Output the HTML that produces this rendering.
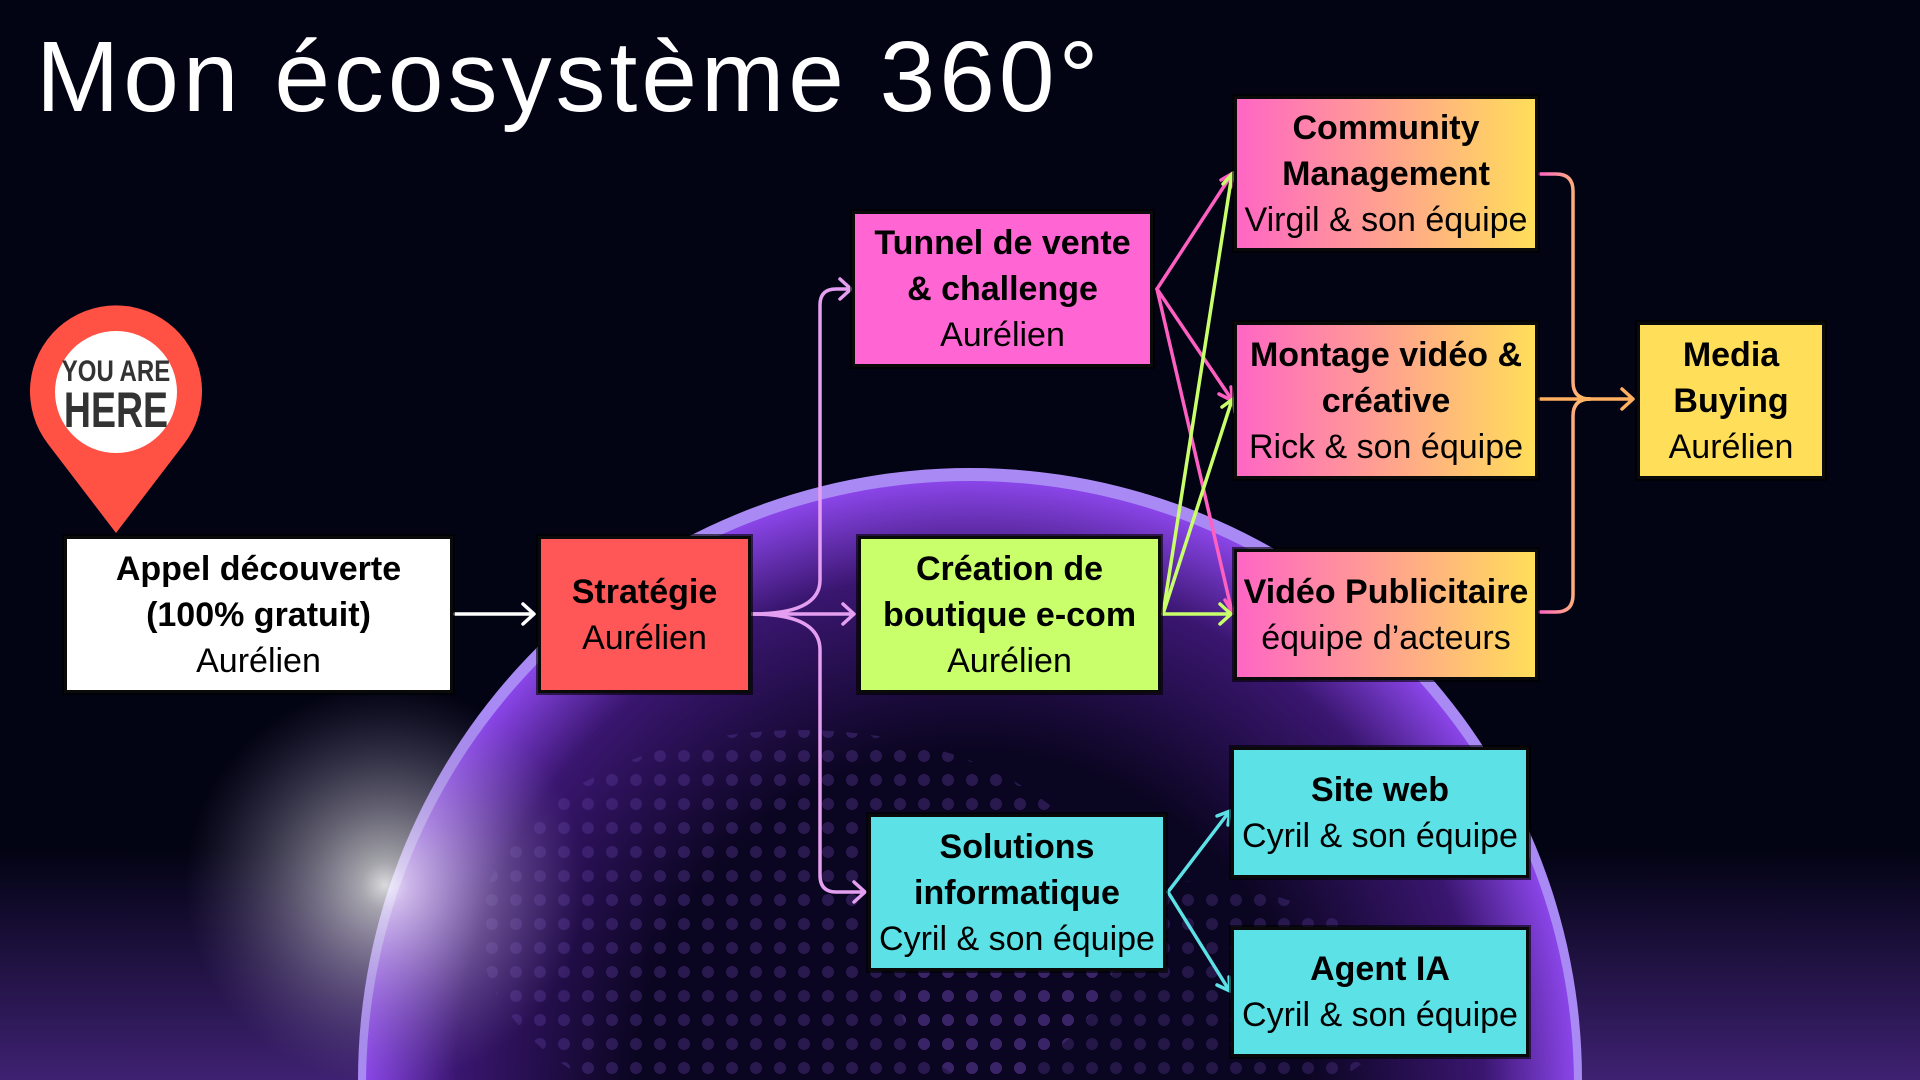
<!DOCTYPE html>
<html><head><meta charset="utf-8"><style>
html,body{margin:0;padding:0;width:1920px;height:1080px;overflow:hidden}
body{background:#020313;position:relative;font-family:"Liberation Sans",sans-serif}
.title{position:absolute;left:36px;top:20px;font-size:100px;color:#fff;letter-spacing:4px;white-space:nowrap}
.box{position:absolute;box-sizing:border-box;border:3px solid #0a0a0a;outline:2px solid rgba(0,0,0,.6);display:flex;flex-direction:column;justify-content:center;align-items:center;text-align:center;color:#000;font-size:34px;line-height:46px}
.box b{font-weight:bold}
.g{background:linear-gradient(90deg,#ff66c4,#ffde59)}
</style></head><body>
<svg width="1920" height="1080" style="position:absolute;left:0;top:0">
<defs>
<radialGradient id="globe" cx="0.5" cy="0.5" r="0.5">
<stop offset="0.55" stop-color="#0a0520"/>
<stop offset="0.85" stop-color="#3a1670"/>
<stop offset="1" stop-color="#8a45e8"/>
</radialGradient>
<radialGradient id="flare" cx="0.5" cy="0.5" r="0.5">
<stop offset="0" stop-color="#fff" stop-opacity="1"/>
<stop offset="0.12" stop-color="#eee" stop-opacity="0.8"/>
<stop offset="1" stop-color="#8877aa" stop-opacity="0"/>
</radialGradient>
<linearGradient id="bott" x1="0" y1="0" x2="0" y2="1">
<stop offset="0" stop-color="#7b3fd0" stop-opacity="0"/>
<stop offset="1" stop-color="#7b3fd0" stop-opacity="0.5"/>
</linearGradient>
<pattern id="dots" width="24" height="24" patternUnits="userSpaceOnUse"><circle cx="12" cy="12" r="6" fill="#5a3a9a" opacity="0.55"/></pattern>
<linearGradient id="brk" x1="0" y1="0" x2="1" y2="0"><stop offset="0" stop-color="#ff66c4"/><stop offset="1" stop-color="#ffcf59"/></linearGradient>
</defs>
<rect x="0" y="850" width="1920" height="230" fill="url(#bott)"/>
<circle cx="970" cy="1080" r="612" fill="#a98af5"/>
<circle cx="970" cy="1085" r="604" fill="url(#globe)"/>
<ellipse cx="800" cy="930" rx="320" ry="200" fill="url(#dots)" opacity="0.7"/>
<ellipse cx="1150" cy="1000" rx="250" ry="120" fill="url(#dots)" opacity="0.6"/>
<circle cx="385" cy="885" r="200" fill="url(#flare)" opacity="0.85"/>
<g fill="none" stroke-width="3.5" stroke-linecap="round" stroke-linejoin="round">
<path d="M455 614 H533 M523 604 L534 614 L523 624" stroke="#fff"/>
<g stroke="#e59ff0">
<path d="M752 614 H853 M843 604 L854 614 L843 624"/>
<path d="M752 614 Q820 614 820 580 V305 Q820 289 836 289 H850 M840 279 L851 289 L840 299"/>
<path d="M752 614 Q820 614 820 650 V875 Q820 892 836 892 H864 M854 882 L865 892 L854 902"/>
</g>
<g stroke="#ff5fc0">
<path d="M1157 289 L1232 174 M1221 180 L1233 173 L1231 187"/>
<path d="M1157 289 L1232 400 M1219 394 L1233 401 L1231 387"/>
<path d="M1157 289 L1232 612 M1225 600 L1233 613 L1238 598"/>
</g>
<g stroke="#c8ff6a">
<path d="M1163 614 L1232 174 M1223 184 L1233 173 L1237 187"/>
<path d="M1163 614 L1232 400 M1222 407 L1233 399 L1235 412"/>
<path d="M1163 614 H1230 M1220 604 L1231 614 L1220 624"/>
</g>
<g stroke="#5ce1e6">
<path d="M1168 892 L1229 812 M1217 816 L1230 811 L1228 825"/>
<path d="M1168 892 L1229 990 M1217 985 L1230 991 L1229 977"/>
</g>
<g stroke="url(#brk)">
<path d="M1540 174 H1556 Q1573 174 1573 191 V382 Q1573 399 1590 399"/>
<path d="M1540 612 H1556 Q1573 612 1573 595 V416 Q1573 399 1590 399"/>
<path d="M1540 399 H1632 M1622 389 L1633 399 L1622 409" stroke="#ffb060"/>
</g>
</g>
<path d="M116 533 L48 444 A86 86 0 1 1 184 444 Z" fill="#ff5245"/>
<circle cx="116" cy="392" r="61" fill="#fff"/>
<text x="116" y="381" text-anchor="middle" font-family="Liberation Sans Narrow,Liberation Sans,sans-serif" font-size="30" fill="#333" transform="translate(116 0) scale(0.8 1) translate(-116 0)" font-weight="bold">YOU ARE</text>
<text x="116" y="427" text-anchor="middle" font-family="Liberation Sans Narrow,Liberation Sans,sans-serif" font-size="50" fill="#333" font-weight="bold" transform="translate(116 0) scale(0.75 1) translate(-116 0)">HERE</text>
</svg>
<div class="title">Mon écosystème 360°</div>
<div class="box" style="left:64px;top:536px;width:389px;height:157px;background:#fff"><b>Appel découverte</b><b>(100% gratuit)</b><span>Aurélien</span></div>
<div class="box" style="left:538px;top:536px;width:213px;height:157px;background:#ff5757"><b>Stratégie</b><span>Aurélien</span></div>
<div class="box" style="left:852px;top:211px;width:301px;height:156px;background:#ff66d4"><b>Tunnel de vente</b><b>&amp; challenge</b><span>Aurélien</span></div>
<div class="box" style="left:858px;top:536px;width:303px;height:157px;background:#c8ff6a"><b>Création de</b><b>boutique e-com</b><span>Aurélien</span></div>
<div class="box" style="left:868px;top:814px;width:298px;height:157px;background:#5ce1e6"><b>Solutions</b><b>informatique</b><span>Cyril &amp; son équipe</span></div>
<div class="box g" style="left:1234px;top:96px;width:304px;height:155px"><b>Community</b><b>Management</b><span>Virgil &amp; son équipe</span></div>
<div class="box g" style="left:1234px;top:322px;width:304px;height:157px"><b>Montage vidéo &amp;</b><b>créative</b><span>Rick &amp; son équipe</span></div>
<div class="box g" style="left:1234px;top:549px;width:304px;height:131px"><b>Vidéo Publicitaire</b><span>équipe d’acteurs</span></div>
<div class="box" style="left:1637px;top:322px;width:188px;height:157px;background:#ffde59"><b>Media</b><b>Buying</b><span>Aurélien</span></div>
<div class="box" style="left:1231px;top:747px;width:298px;height:131px;background:#5ce1e6"><b>Site web</b><span>Cyril &amp; son équipe</span></div>
<div class="box" style="left:1231px;top:927px;width:298px;height:130px;background:#5ce1e6"><b>Agent IA</b><span>Cyril &amp; son équipe</span></div>
</body></html>
